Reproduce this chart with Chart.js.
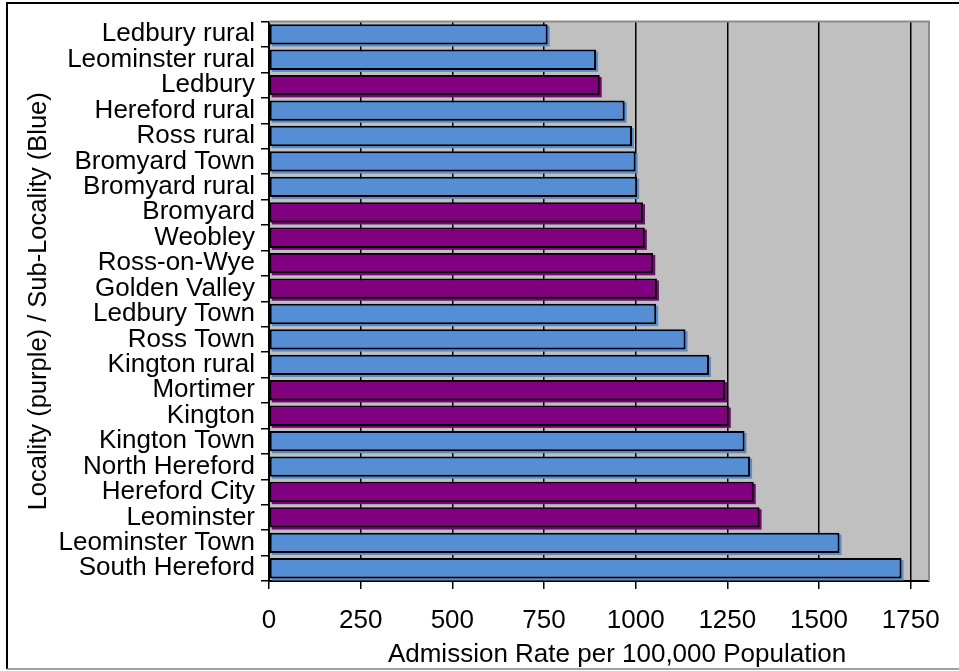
<!DOCTYPE html>
<html>
<head>
<meta charset="utf-8">
<title>Admission Rate per 100,000 Population</title>
<script src="https://cdn.jsdelivr.net/npm/chart.js@4/dist/chart.umd.min.js"></script>
<style>
  html, body { margin: 0; padding: 0; background: #ffffff; }
  #wrap { position: relative; width: 959px; height: 671px; }
</style>
</head>
<body>
<div id="wrap"><canvas id="chart" width="959" height="671"></canvas></div>
<script>
// Localities (purple) and sub-localities (blue), top to bottom
const areas = [
  'Ledbury rural', 'Leominster rural', 'Ledbury', 'Hereford rural', 'Ross rural',
  'Bromyard Town', 'Bromyard rural', 'Bromyard', 'Weobley', 'Ross-on-Wye',
  'Golden Valley', 'Ledbury Town', 'Ross Town', 'Kington rural', 'Mortimer',
  'Kington', 'Kington Town', 'North Hereford', 'Hereford City', 'Leominster',
  'Leominster Town', 'South Hereford'
];
// L = locality, S = sub-locality
const areaLevel = [
  'S', 'S', 'L', 'S', 'S',
  'S', 'S', 'L', 'L', 'L',
  'L', 'S', 'S', 'S', 'L',
  'L', 'S', 'S', 'L', 'L',
  'S', 'S'
];
// Admission rate per 100,000 population
const admissionRate = [
  760, 892, 902, 970, 990,
  1000, 1004, 1020, 1025, 1048,
  1058, 1056, 1136, 1200, 1244,
  1254, 1297, 1312, 1322, 1338,
  1556, 1725
];
const rateTicks = [0, 250, 500, 750, 1000, 1250, 1500, 1750];

const PURPLE = '#800080';
const BLUE = '#558ed5';
const barColors = areaLevel.map(l => l === 'L' ? PURPLE : BLUE);
const FONT = '"Liberation Sans", Arial, sans-serif';

// Outer frame and grey plot background
const framePlugin = {
  id: 'frame',
  beforeDraw(chart) {
    const ctx = chart.ctx, a = chart.chartArea;
    ctx.save();
    ctx.fillStyle = '#c0c0c0';
    ctx.fillRect(a.left, a.top, a.right - a.left, a.bottom - a.top);
    ctx.strokeStyle = '#000';
    ctx.lineWidth = 2;
    ctx.beginPath();
    ctx.moveTo(7, 669);
    ctx.lineTo(7, 3);
    ctx.lineTo(959, 3);
    ctx.stroke();
    ctx.strokeStyle = '#808080';
    ctx.lineWidth = 1.5;
    ctx.beginPath();
    ctx.moveTo(7, 669);
    ctx.lineTo(959, 669);
    ctx.stroke();
    ctx.restore();
  },
  afterDraw(chart) {
    const ctx = chart.ctx, a = chart.chartArea;
    ctx.save();
    // grey border on top and right of plot area
    ctx.strokeStyle = '#8c8c8c';
    ctx.lineWidth = 2;
    ctx.beginPath();
    ctx.moveTo(a.left, a.top);
    ctx.lineTo(a.right, a.top);
    ctx.lineTo(a.right, a.bottom);
    ctx.stroke();
    // x-axis title
    ctx.fillStyle = '#000';
    ctx.font = '26px ' + FONT;
    ctx.textAlign = 'center';
    ctx.textBaseline = 'alphabetic';
    ctx.fillText('Admission Rate per 100,000 Population', 617, 662);
    ctx.restore();
  }
};

// Coloured offset shadow behind each bar
const barShadow = {
  id: 'barShadow',
  beforeDatasetsDraw(chart) {
    const ctx = chart.ctx;
    const meta = chart.getDatasetMeta(0);
    ctx.save();
    meta.data.forEach((bar, i) => {
      const h = bar.height;
      ctx.fillStyle = barColors[i];
      ctx.fillRect(bar.base + 2, bar.y - h / 2 + 2, bar.x - bar.base, h);
    });
    ctx.restore();
  }
};

new Chart(document.getElementById('chart'), {
  type: 'bar',
  data: {
    labels: areas,
    datasets: [{
      data: admissionRate,
      backgroundColor: barColors,
      borderColor: '#000',
      borderWidth: 2,
      borderSkipped: false,
      barPercentage: 0.8,
      categoryPercentage: 1.0
    }]
  },
  options: {
    indexAxis: 'y',
    responsive: false,
    animation: false,
    devicePixelRatio: 1,
    layout: { padding: { left: 12, top: 19, right: 30, bottom: 0 } },
    plugins: {
      legend: { display: false },
      tooltip: { enabled: false }
    },
    scales: {
      x: {
        type: 'linear',
        min: 0,
        max: 1800,
        afterBuildTicks(scale) {
          scale.ticks = rateTicks.map(v => ({ value: v }));
        },
        afterFit(scale) { scale.height = 90; },
        ticks: {
          color: '#000',
          padding: 16,
          font: { family: FONT, size: 26 },
          callback: v => String(v)
        },
        grid: {
          color: '#000',
          lineWidth: 1.5,
          drawTicks: true,
          tickLength: 8,
          tickColor: '#000'
        },
        border: { color: '#000', width: 2 }
      },
      y: {
        type: 'category',
        afterFit(scale) { scale.width = 257; },
        ticks: {
          color: '#000',
          padding: 6,
          autoSkip: false,
          font: { family: FONT, size: 26 }
        },
        grid: {
          offset: true,
          drawOnChartArea: false,
          drawTicks: true,
          tickLength: 8,
          tickColor: '#000',
          lineWidth: 1.5
        },
        border: { color: '#000', width: 2 },
        title: {
          display: true,
          text: 'Locality (purple) / Sub-Locality (Blue)',
          color: '#000',
          font: { family: FONT, size: 25.5 },
          padding: { top: 12, bottom: 0 }
        }
      }
    }
  },
  plugins: [framePlugin, barShadow]
});
</script>
</body>
</html>
